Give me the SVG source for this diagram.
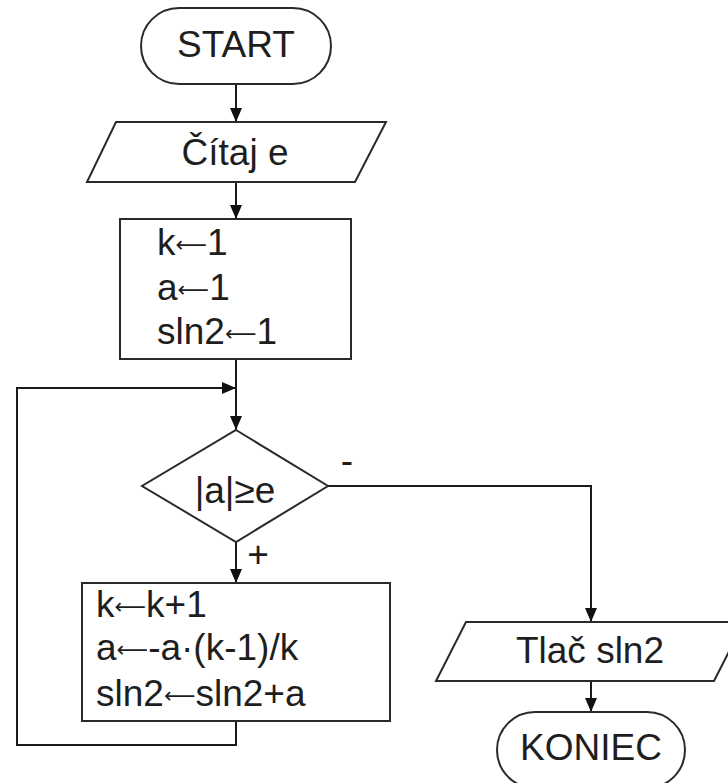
<svg xmlns="http://www.w3.org/2000/svg" width="728" height="783" viewBox="0 0 728 783">
  <style>
    .shape { fill: #ffffff; stroke: #2a2a2a; stroke-width: 2; }
    .wire { fill: none; stroke: #1a1a1a; stroke-width: 2; }
    .lbl { font-family: "Liberation Sans", Arial, sans-serif; font-size: 37px; fill: #1e1e1e; }
    .mid { text-anchor: middle; }
    .as { font-family: "DejaVu Sans", sans-serif; font-size: 22px; baseline-shift: 3px; }
  </style>
  <defs>
    <marker id="arrow" viewBox="0 0 14 12" refX="14" refY="6" markerWidth="14" markerHeight="12" markerUnits="userSpaceOnUse" orient="auto">
      <path d="M0,0 L14,6 L0,12 Z" fill="#111111"/>
    </marker>
  </defs>

  <rect width="728" height="783" fill="#ffffff"/>

  <!-- connectors -->
  <g id="connectors">
    <line class="wire" x1="236" y1="84" x2="236" y2="122" marker-end="url(#arrow)"/>
    <line class="wire" x1="236" y1="182" x2="236" y2="219" marker-end="url(#arrow)"/>
    <line class="wire" x1="236" y1="359" x2="236" y2="430" marker-end="url(#arrow)"/>
    <line class="wire" x1="236" y1="542" x2="236" y2="583" marker-end="url(#arrow)"/>
    <polyline class="wire" points="236,721 236,745 17,745 17,388 236,388" marker-end="url(#arrow)"/>
    <polyline class="wire" points="328,486 591,486 591,622" marker-end="url(#arrow)"/>
    <line class="wire" x1="591" y1="681" x2="591" y2="712" marker-end="url(#arrow)"/>
    <text class="lbl mid" x="347" y="473">-</text>
    <text class="lbl mid" x="258" y="567">+</text>
  </g>

  <g id="start">
    <rect class="shape" x="141" y="8" width="190" height="76" rx="38" ry="38"/>
    <text class="lbl mid" x="236" y="57">START</text>
  </g>

  <g id="read">
    <polygon class="shape" points="116,122 386,122 355,182 87,182"/>
    <text class="lbl mid" x="235" y="165">Čítaj e</text>
  </g>

  <g id="init">
    <rect class="shape" x="120" y="219" width="231" height="140"/>
    <text class="lbl" x="157" y="255">k<tspan class="as">⟵</tspan>1</text>
    <text class="lbl" x="157" y="300">a<tspan class="as">⟵</tspan>1</text>
    <text class="lbl" x="157" y="344">sln2<tspan class="as">⟵</tspan>1</text>
  </g>

  <g id="test">
    <polygon class="shape" points="236,430 328,486 236,542 142,486"/>
    <text class="lbl mid" x="235" y="503">|a|≥e</text>
  </g>

  <g id="step">
    <rect class="shape" x="82" y="583" width="308" height="138"/>
    <text class="lbl" x="96" y="617">k<tspan class="as">⟵</tspan>k+1</text>
    <text class="lbl" x="96" y="660">a<tspan class="as">⟵</tspan>-a·(k-1)/k</text>
    <text class="lbl" x="96" y="706">sln2<tspan class="as">⟵</tspan>sln2+a</text>
  </g>

  <g id="print">
    <polygon class="shape" points="466,622 744,622 714,681 436,681"/>
    <text class="lbl mid" x="590" y="663">Tlač sln2</text>
  </g>

  <g id="end">
    <rect class="shape" x="497" y="712" width="188" height="76" rx="38" ry="38"/>
    <text class="lbl mid" x="591" y="760">KONIEC</text>
  </g>
</svg>
